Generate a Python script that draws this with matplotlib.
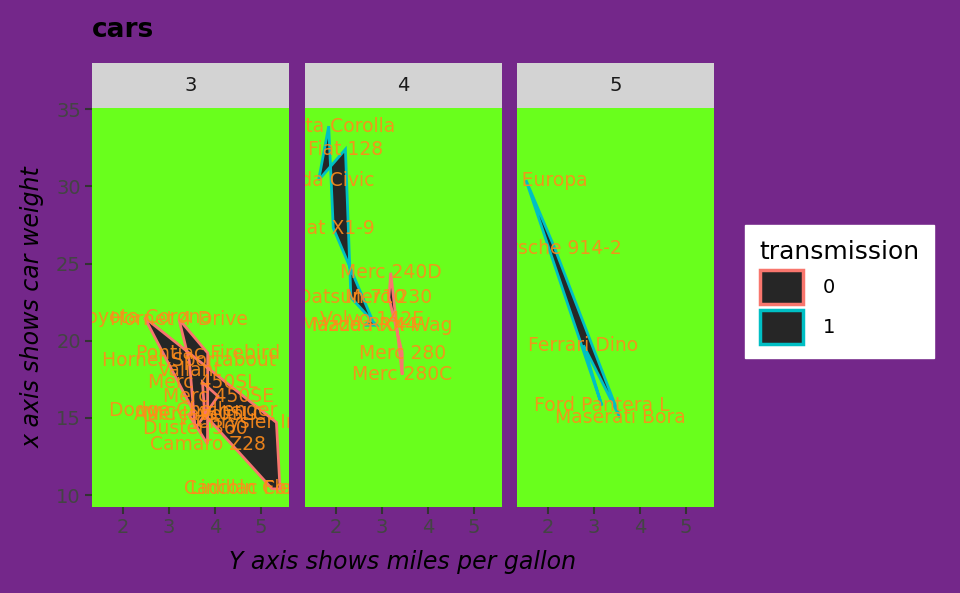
import matplotlib
matplotlib.use('Agg')
import matplotlib.pyplot as plt
from matplotlib.patches import Polygon, Patch
import numpy as np

plt.rcParams['font.family'] = ['DejaVu Sans']

# mtcars subset: name, mpg, wt, gear, am
names = ['Mazda RX4', 'Mazda RX4 Wag', 'Datsun 710', 'Hornet 4 Drive', 'Hornet Sportabout',
         'Valiant', 'Duster 360', 'Merc 240D', 'Merc 230', 'Merc 280', 'Merc 280C',
         'Merc 450SE', 'Merc 450SL', 'Merc 450SLC', 'Cadillac Fleetwood',
         'Lincoln Continental', 'Chrysler Imperial', 'Fiat 128', 'Honda Civic',
         'Toyota Corolla', 'Toyota Corona', 'Dodge Challenger', 'AMC Javelin',
         'Camaro Z28', 'Pontiac Firebird', 'Fiat X1-9', 'Porsche 914-2', 'Lotus Europa',
         'Ford Pantera L', 'Ferrari Dino', 'Maserati Bora', 'Volvo 142E']
mpg = [21.0, 21.0, 22.8, 21.4, 18.7, 18.1, 14.3, 24.4, 22.8, 19.2, 17.8, 16.4, 17.3, 15.2,
       10.4, 10.4, 14.7, 32.4, 30.4, 33.9, 21.5, 15.5, 15.2, 13.3, 19.2, 27.3, 26.0, 30.4,
       15.8, 19.7, 15.0, 21.4]
wt = [2.620, 2.875, 2.320, 3.215, 3.440, 3.460, 3.570, 3.190, 3.150, 3.440, 3.440, 4.070,
      3.730, 3.780, 5.250, 5.424, 5.345, 2.200, 1.615, 1.835, 2.465, 3.520, 3.435, 3.840,
      3.845, 1.935, 2.140, 1.513, 3.170, 2.770, 3.570, 2.780]
gear = [4, 4, 4, 3, 3, 3, 3, 4, 4, 4, 4, 3, 3, 3, 3, 3, 3, 4, 4, 4, 3, 3, 3, 3, 3, 4, 5, 5,
        5, 5, 5, 4]
am = [1, 1, 1, 0, 0, 0, 0, 0, 0, 0, 0, 0, 0, 0, 0, 0, 0, 1, 1, 1, 0, 0, 0, 0, 0, 1, 1, 1,
      1, 1, 1, 1]
gears = [3, 4, 5]
am_levels = [0, 1]
am_colors = {0: '#F8766D', 1: '#00BFC4'}

bg = '#74278A'
panel_bg = '#69FF1C'
strip_bg = '#D3D3D3'
fill_col = '#262626'
text_col = '#FF8C1A'
tick_col = '#444444'

wt = np.array(wt)
mpg = np.array(mpg)
gear = np.array(gear)
am = np.array(am)

W, H = 960, 593
fig = plt.figure(figsize=(9.6, 5.93), dpi=100, facecolor=bg)

xr = wt.max() - wt.min()
yr = mpg.max() - mpg.min()
xlim = (wt.min() - 0.05 * xr, wt.max() + 0.05 * xr)
ylim = (mpg.min() - 0.05 * yr, mpg.max() + 0.05 * yr)

panel_left = [92, 305, 517]
pw = 197
ptop, pbot = 108, 507
strip_top = 63

for i, g in enumerate(gears):
    l = panel_left[i]
    ax = fig.add_axes([l / W, 1 - pbot / H, pw / W, (pbot - ptop) / H])
    ax.set_facecolor(panel_bg)
    for s in ax.spines.values():
        s.set_visible(False)
    ax.set_xlim(xlim)
    ax.set_ylim(ylim)
    ax.set_xticks([2, 3, 4, 5])
    ax.set_yticks([10, 15, 20, 25, 30, 35])
    ax.tick_params(colors='#333333', labelcolor=tick_col, labelsize=14, length=5, width=1.5, pad=3)
    if i > 0:
        ax.set_yticklabels([])
        ax.tick_params(axis='y', length=0)
    for a in am_levels:
        m = (gear == g) & (am == a)
        if m.sum() == 0:
            continue
        pts = np.column_stack([wt[m], mpg[m]])
        ax.add_patch(Polygon(pts, closed=True, facecolor=fill_col,
                             edgecolor=am_colors[a], linewidth=2, zorder=2))
    for j in np.where(gear == g)[0]:
        ax.text(wt[j], mpg[j], names[j], color=text_col, fontsize=13.5, alpha=0.9,
                ha='center', va='center', clip_on=True, zorder=3)

    sax = fig.add_axes([l / W, 1 - ptop / H, pw / W, (ptop - strip_top) / H])
    sax.set_facecolor(strip_bg)
    sax.set_xticks([])
    sax.set_yticks([])
    for s in sax.spines.values():
        s.set_visible(False)
    sax.text(0.5, 0.5, str(g), ha='center', va='center', fontsize=14,
             color='#1A1A1A', transform=sax.transAxes)

fig.text(92 / W, 1 - 30 / H, 'cars', fontsize=19, fontweight='bold',
         ha='left', va='center', color='black')
fig.text(403 / W, 1 - 562 / H, 'Y axis shows miles per gallon', fontsize=17,
         style='italic', ha='center', va='center', color='black')
fig.text(33 / W, 1 - 307 / H, 'x axis shows car weight', fontsize=17,
         style='italic', rotation=90, ha='center', va='center', color='black')

handles = [Patch(facecolor=fill_col, edgecolor=am_colors[a], linewidth=2.5) for a in am_levels]
leg = fig.legend(handles, [str(a) for a in am_levels], title='transmission',
                 loc='upper left', bbox_to_anchor=(745 / W, 1 - 225 / H),
                 frameon=True, fancybox=False, framealpha=1, fontsize=14, title_fontsize=18,
                 handlelength=2.25, handleheight=2.25, handletextpad=1.0,
                 labelspacing=0.35, borderpad=0.75, borderaxespad=0)
leg.get_frame().set_facecolor('white')
leg.get_frame().set_edgecolor('white')
leg._legend_box.align = 'left'

fig.savefig('out.png', dpi=100, facecolor=bg)
